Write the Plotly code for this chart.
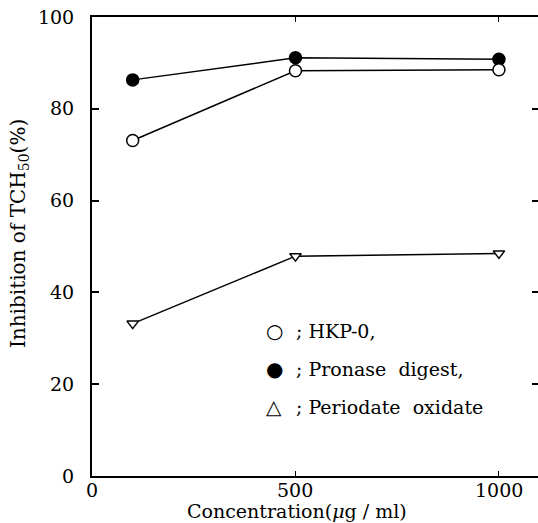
import plotly.graph_objects as go

concentration = [100, 500, 1000]
hkp0 = [73.1, 88.3, 88.5]
pronase = [86.3, 91.1, 90.8]
periodate = [33.2, 47.9, 48.5]

x_ticks = [0, 500, 1000]
x_tick_labels = ["0", "500", "1000"]
y_ticks = [0, 20, 40, 60, 80, 100]
legend_symbols = ["○", "●", "△"]
legend_labels = ["; HKP-0,", "; Pronase  digest,", "; Periodate  oxidate"]

FONT = "DejaVu Serif"

fig = go.Figure()
line = dict(color="black", width=1.5)
fig.add_trace(go.Scatter(x=concentration, y=pronase, mode="lines+markers", line=line,
                         marker=dict(symbol="circle", size=12, color="black",
                                     line=dict(color="black", width=1.5)),
                         cliponaxis=False, showlegend=False))
fig.add_trace(go.Scatter(x=concentration, y=hkp0, mode="lines+markers", line=line,
                         marker=dict(symbol="circle", size=12, color="white",
                                     line=dict(color="black", width=1.5)),
                         cliponaxis=False, showlegend=False))
fig.add_trace(go.Scatter(x=concentration, y=periodate, mode="lines+markers", line=line,
                         marker=dict(symbol="triangle-down", size=10, color="white",
                                     line=dict(color="black", width=1.5)),
                         cliponaxis=False, showlegend=False))
fig.add_trace(go.Scatter(x=[None], y=[None], yaxis="y2", showlegend=False, hoverinfo="skip"))

fig.update_layout(
    width=538, height=523,
    margin=dict(l=92, r=0, t=17, b=47),
    paper_bgcolor="white", plot_bgcolor="white",
    font=dict(family=FONT, size=18, color="black"),
    xaxis=dict(range=[0, 1096], tickvals=x_ticks, ticks="inside", ticklen=5, tickwidth=1.2,
               tickcolor="black", showline=True, linecolor="black", linewidth=2,
               mirror="ticks", showgrid=False, zeroline=False, showticklabels=False),
    yaxis=dict(range=[0, 100], tickvals=y_ticks, ticks="inside", ticklen=7, tickwidth=1.5,
               tickcolor="black", showline=True, linecolor="black", linewidth=2,
               mirror=False, showgrid=False, zeroline=False, ticklabelstandoff=12,
               tickfont=dict(family=FONT, size=19)),
    yaxis2=dict(range=[0, 100], tickvals=y_ticks, overlaying="y", side="right",
                ticks="inside", ticklen=6, tickwidth=1.5, tickcolor="black",
                showline=False, showticklabels=False, showgrid=False, zeroline=False),
)

annotations = []
for tv, tl in zip(x_ticks, x_tick_labels):
    annotations.append(dict(text=tl, xref="x", yref="paper", x=tv, y=0, yshift=-1,
                            xanchor="center", yanchor="top", showarrow=False,
                            font=dict(family=FONT, size=19)))
annotations += [
    dict(text="Concentration(<i>μ</i>g / ml)", xref="x", yref="paper", x=504, y=0,
         yshift=-35, xanchor="center", yanchor="middle", showarrow=False,
         font=dict(family=FONT, size=19)),
    dict(text="Inhibition of TCH<sub>50</sub>(%)", xref="paper", yref="y", x=0, y=52.7,
         xshift=-73, xanchor="center", yanchor="middle", textangle=-90, showarrow=False,
         font=dict(family=FONT, size=20)),
]
legend_y = [31.6, 23.3, 15.0]
for sym, lbl, yy in zip(legend_symbols, legend_labels, legend_y):
    annotations.append(dict(text=sym, xref="x", yref="y", x=448, y=yy, xanchor="center",
                            yanchor="middle", showarrow=False,
                            font=dict(family="DejaVu Sans", size=20)))
    annotations.append(dict(text=lbl, xref="x", yref="y", x=497, y=yy, xanchor="left",
                            yanchor="middle", showarrow=False,
                            font=dict(family=FONT, size=19)))
fig.update_layout(annotations=annotations)

fig.write_html("out.html")
